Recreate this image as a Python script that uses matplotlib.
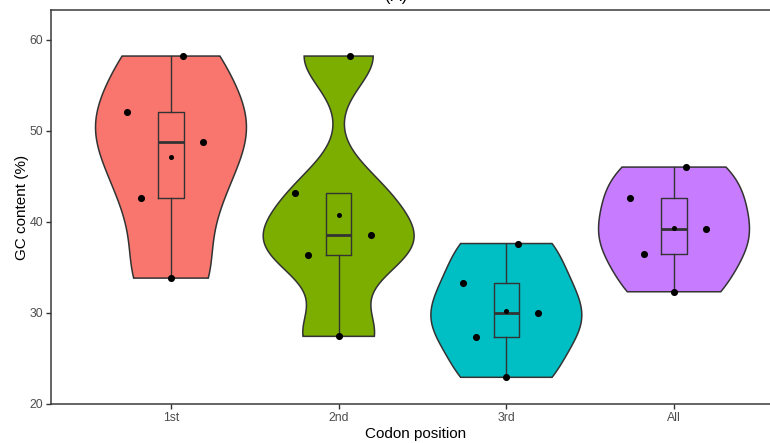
import numpy as np
import matplotlib
matplotlib.use("Agg")
import matplotlib.pyplot as plt

# GC content (%) per codon position, five samples each
categories = ["1st", "2nd", "3rd", "All"]
gc_1st = [58.2, 52.0, 48.8, 42.6, 33.8]
gc_2nd = [58.2, 43.2, 38.5, 36.3, 27.4]
gc_3rd = [37.6, 33.3, 30.0, 27.3, 22.9]
gc_all = [46.0, 42.6, 39.2, 36.5, 32.3]
groups = [gc_1st, gc_2nd, gc_3rd, gc_all]

fill_colors = ["#F8766D", "#7CAE00", "#00BFC4", "#C77CFF"]
jitter = [0.07, -0.26, 0.19, -0.18, 0.0]   # fixed horizontal offsets of the points
line_col = "#333333"

plt.rcParams["font.family"] = ["Liberation Sans", "DejaVu Sans"]

W, H = 770, 443
fig = plt.figure(figsize=(W / 100, H / 100), dpi=100)
left, right, top, bottom = 51, 781, 10, 403.7
ax = fig.add_axes([left / W, 1 - bottom / H, (right - left) / W, (bottom - top) / H])


def bw_nrd0(x):
    x = np.asarray(x, float)
    sd = np.std(x, ddof=1)
    q75, q25 = np.percentile(x, [75, 25])
    lo = min(sd, (q75 - q25) / 1.34)
    return 0.9 * lo * len(x) ** (-0.2)


for i, (vals, col) in enumerate(zip(groups, fill_colors)):
    pos = i + 1
    v = np.asarray(vals, float)
    bw = bw_nrd0(v)
    grid = np.linspace(v.min(), v.max(), 512)
    dens = np.exp(-0.5 * ((grid[:, None] - v[None, :]) / bw) ** 2).sum(axis=1)
    half = 0.45 * dens / dens.max()
    xs = np.concatenate([pos - half, (pos + half)[::-1]])
    ys = np.concatenate([grid, grid[::-1]])
    ax.fill(xs, ys, facecolor=col, edgecolor=line_col, linewidth=1.1, zorder=2)

    # box and whiskers
    q1, med, q3 = np.percentile(v, [25, 50, 75])
    iqr = q3 - q1
    lo_w = v[v >= q1 - 1.5 * iqr].min()
    hi_w = v[v <= q3 + 1.5 * iqr].max()
    bw_box = 0.075
    ax.plot([pos - bw_box, pos + bw_box, pos + bw_box, pos - bw_box, pos - bw_box],
            [q1, q1, q3, q3, q1], color=line_col, lw=1.0, zorder=3)
    ax.plot([pos, pos], [q3, hi_w], color=line_col, lw=1.0, zorder=3)
    ax.plot([pos, pos], [lo_w, q1], color=line_col, lw=1.0, zorder=3)
    ax.plot([pos - bw_box, pos + bw_box], [med, med], color=line_col, lw=2.0,
            zorder=3, solid_capstyle="butt")

    # individual samples
    order = np.argsort(-v)
    px = [pos + jitter[k] for k in range(len(v))]
    ax.scatter(px, v[order], s=26, color="black", zorder=4, linewidths=0)
    # mean
    ax.scatter([pos], [v.mean()], s=13, color="black", zorder=5, linewidths=0)

ax.set_xlim(0.2844, 4.638)
ax.set_ylim(20, 63.26)
ax.set_xticks(range(1, len(categories) + 1))
ax.set_xticklabels(categories)
ax.set_yticks([20, 30, 40, 50, 60])

for s in ax.spines.values():
    s.set_color("#3a3a3a")
    s.set_linewidth(1.1)

ax.tick_params(axis="both", length=3.5, width=1.0, color="#333333",
               labelsize=8.8, labelcolor="#4D4D4D", pad=2.2)
ax.set_xlabel("Codon position", fontsize=11, color="black")
ax.xaxis.label.set_va("center")
ax.xaxis.set_label_coords((415.7 - left) / (right - left), -(434 - bottom) / (bottom - top))
ax.set_ylabel("GC content (%)", fontsize=11, color="black")
ax.yaxis.label.set_va("center")
ax.yaxis.set_label_coords(-(left - 22.5) / (right - left), (bottom - 207) / (bottom - top))

fig.text(396 / W, 1 - 0.5 / H, "(A)", ha="center", va="baseline", fontsize=12,
         color="black")

fig.savefig("out.png", dpi=100)
